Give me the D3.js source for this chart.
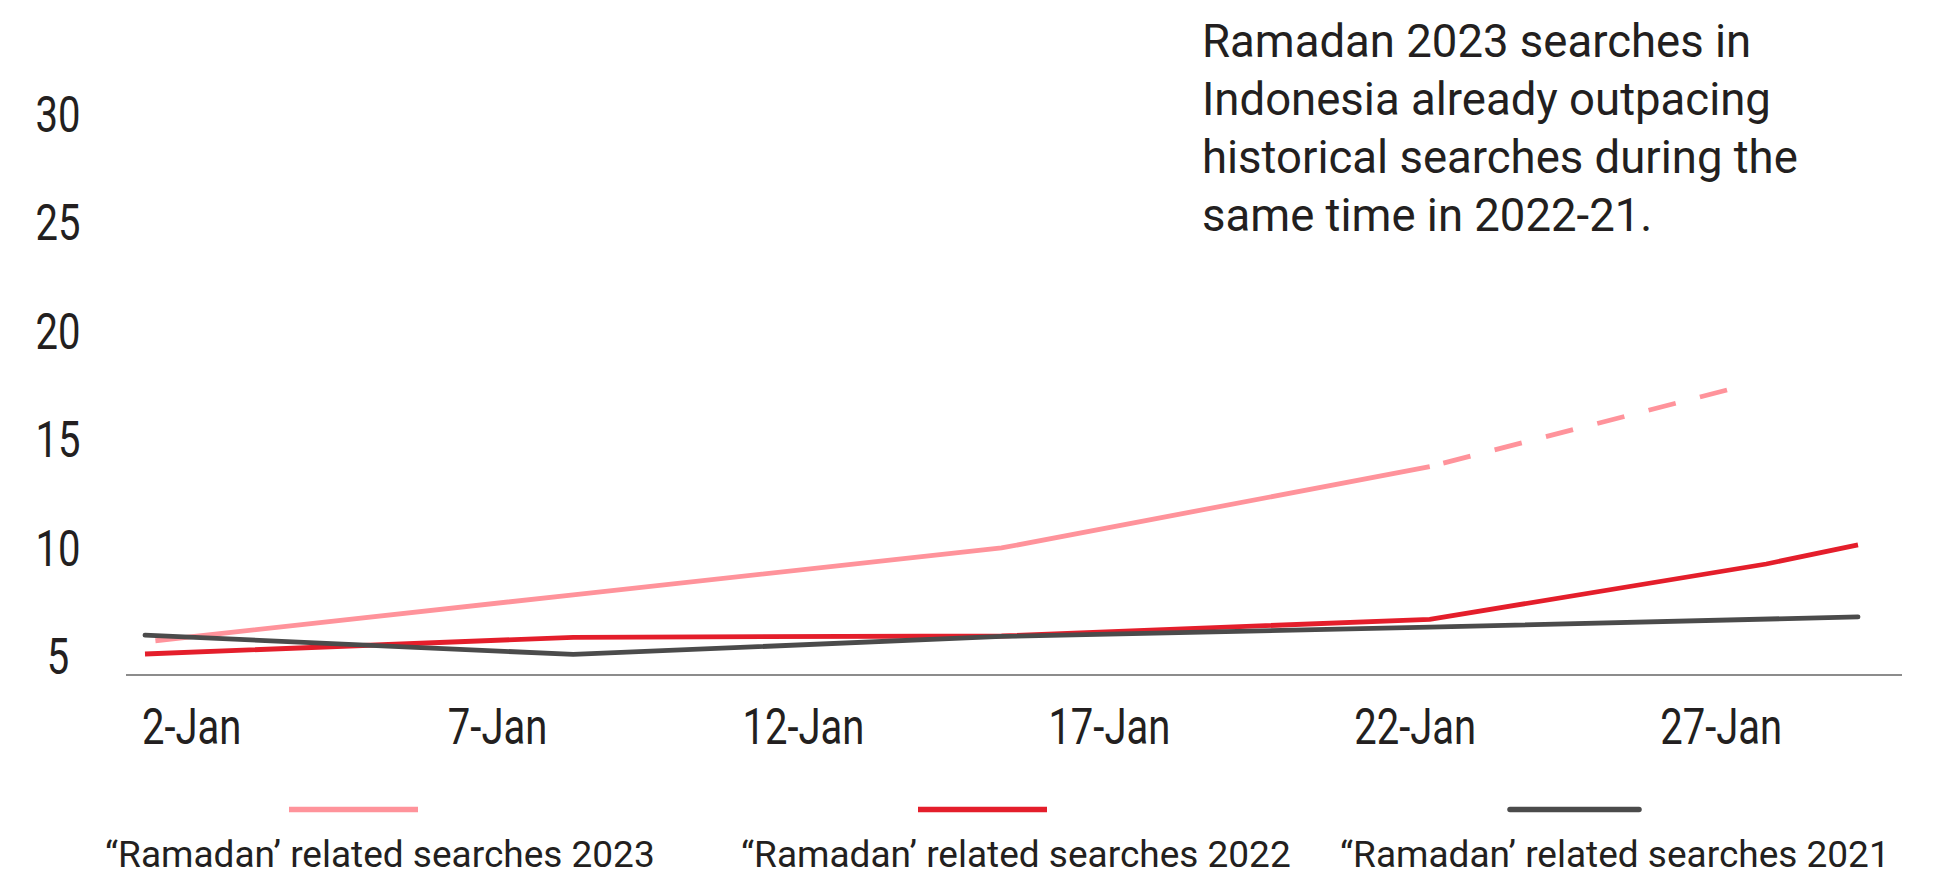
<!DOCTYPE html>
<html>
<head>
<meta charset="utf-8">
<script src="https://cdn.jsdelivr.net/npm/d3@7"></script>
<style>
  html, body { margin: 0; padding: 0; background: #fff; }
  svg { display: block; }
  text { font-family: Roboto, "Liberation Sans", Arial, sans-serif; fill: #231f20; }
</style>
</head>
<body>
<svg id="chart" width="1946" height="879"></svg>
<script>
// ---- data (day of January, value) ----
const days2023 = [1.17, 8, 15, 22];
const vals2023 = [5.68, 7.8, 9.96, 13.71];
const days2023Proj = [22, 27];
const vals2023Proj = [13.71, 17.35];
const days2022 = [1, 8, 15, 22, 27.5, 29];
const vals2022 = [5.07, 5.84, 5.9, 6.67, 9.22, 10.1];
const days2021 = [1, 8, 15, 22, 29];
const vals2021 = [5.94, 5.05, 5.88, 6.31, 6.78];

const xTickDays = [2, 7, 12, 17, 22, 27];
const yTickValues = [5, 10, 15, 20, 25, 30];
const legendLabels = ["\u201CRamadan\u2019 related searches 2023", "\u201CRamadan\u2019 related searches 2022", "\u201CRamadan\u2019 related searches 2021"];
const annotationLines = ["Ramadan 2023 searches in", "Indonesia already outpacing", "historical searches during the", "same time in 2022-21."];

const colors = { s2023: "#ff939b", s2022: "#e41e2b", s2021: "#4b4b4b" };

// ---- layout ----
const svg = d3.select("#chart");
const x = d3.scaleLinear().domain([1, 29]).range([145, 1858]);
const y = d3.scaleLinear().domain([5, 30]).range([655.5, 113.5]);
const baseY = 675;

// baseline
svg.append("line")
  .attr("x1", 126).attr("x2", 1902)
  .attr("y1", baseY).attr("y2", baseY)
  .attr("stroke", "#8c8c8c").attr("stroke-width", 2);

// y axis labels
const yAxis = svg.append("g").attr("transform", "translate(58,0)")
  .call(d3.axisLeft(y).tickValues(yTickValues).tickSize(0).tickFormat(d3.format("d")));
yAxis.select(".domain").remove();
yAxis.selectAll("text")
  .attr("x", 0).attr("dy", "0.36em")
  .attr("text-anchor", "middle")
  .attr("transform", "scale(0.8,1)")
  .style("font-size", "50px").style("font-family", "Roboto, 'Liberation Sans', Arial, sans-serif")
  .attr("fill", "#231f20");

// x axis labels
const xAxis = svg.append("g").attr("transform", `translate(0,${baseY})`)
  .call(d3.axisBottom(x).tickValues(xTickDays).tickSize(0).tickFormat(d => d + "-Jan"));
xAxis.select(".domain").remove();
xAxis.selectAll("text")
  .attr("x", 0).attr("y", 744 - baseY).attr("dy", 0)
  .attr("text-anchor", "middle")
  .attr("transform", "translate(-15,0) scale(0.8,1)")
  .style("font-size", "50px").style("font-family", "Roboto, 'Liberation Sans', Arial, sans-serif")
  .attr("fill", "#231f20");

// lines
const line = d3.line().x(d => x(d[0])).y(d => y(d[1]));
const zip = (a, b) => a.map((d, i) => [d, b[i]]);

svg.append("path").datum(zip(days2023, vals2023))
  .attr("d", line).attr("fill", "none")
  .attr("stroke", colors.s2023).attr("stroke-width", 4.8);
svg.append("path").datum(zip(days2023Proj, vals2023Proj))
  .attr("d", line).attr("fill", "none")
  .attr("stroke", colors.s2023).attr("stroke-width", 4.8)
  .attr("stroke-dasharray", "28,25").attr("stroke-dashoffset", 39);
svg.append("path").datum(zip(days2022, vals2022))
  .attr("d", line).attr("fill", "none")
  .attr("stroke", colors.s2022).attr("stroke-width", 4.8);
svg.append("path").datum(zip(days2021, vals2021))
  .attr("d", line).attr("fill", "none")
  .attr("stroke", colors.s2021).attr("stroke-width", 4.8)
  .attr("stroke-linecap", "round").attr("stroke-linejoin", "round");

// legend
const legendLineX = [289, 918, 1510];
const legendTextX = [105, 741, 1340];
const legendColors = [colors.s2023, colors.s2022, colors.s2021];
const lg = svg.append("g");
legendLabels.forEach((lab, i) => {
  lg.append("line")
    .attr("x1", legendLineX[i]).attr("x2", legendLineX[i] + 129)
    .attr("y1", 809.5).attr("y2", 809.5)
    .attr("stroke", legendColors[i]).attr("stroke-width", 5.5)
    .attr("stroke-linecap", i === 2 ? "round" : "butt");
  lg.append("text")
    .attr("x", legendTextX[i]).attr("y", 867)
    .style("font-size", "37px")
    .text(lab);
});

// annotation
const ann = svg.append("text").attr("x", 1202).attr("y", 57).style("font-size", "45.5px");
annotationLines.forEach((t, i) => {
  ann.append("tspan").attr("x", 1202).attr("y", 57 + i * 58).text(t);
});
</script>
</body>
</html>
